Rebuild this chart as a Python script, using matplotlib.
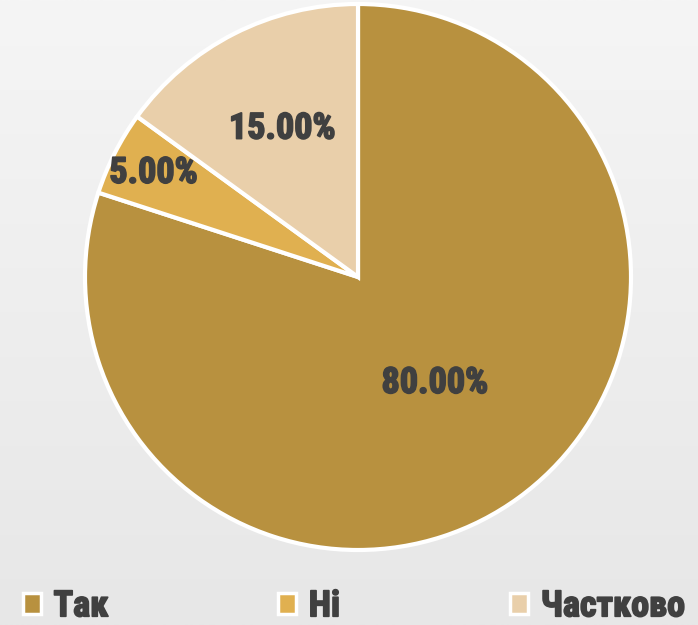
import numpy as np
import matplotlib.pyplot as plt
import matplotlib.patheffects as pe
from matplotlib.colors import LinearSegmentedColormap
from matplotlib.patches import Patch

labels = ["Так", "Ні", "Частково"]
values = [80, 5, 15]
colors = ["#B8913F", "#E0B050", "#E9CFAA"]
pct_dist = [0.48, 0.84, 0.61]

font = ["Roboto Condensed", "DejaVu Sans"]
text_color = "#404040"
heavy = [pe.withStroke(linewidth=1.2, foreground=text_color)]

fig = plt.figure(figsize=(6.98, 6.25), dpi=100)

# soft grey background gradient
bg = fig.add_axes([0, 0, 1, 1], zorder=-1)
grad = np.linspace(0, 1, 256).reshape(-1, 1)
bg.imshow(grad, aspect="auto", extent=[0, 1, 0, 1], origin="upper",
          cmap=LinearSegmentedColormap.from_list("bg", ["#F5F5F5", "#E7E7E7"]))
bg.axis("off")

ax = fig.add_axes([85 / 698, 75 / 625, 546 / 698, 546 / 625])
wedges, texts, autotexts = ax.pie(
    values, colors=colors, startangle=90, counterclock=False,
    autopct="%.2f%%", radius=1,
    wedgeprops=dict(edgecolor="white", linewidth=3, clip_on=False),
    textprops=dict(family=font, fontweight="black", fontsize=26, color=text_color),
)
for w, t, d in zip(wedges, autotexts, pct_dist):
    ang = np.deg2rad((w.theta1 + w.theta2) / 2)
    t.set_position((d * np.cos(ang), d * np.sin(ang)))
    t.set_path_effects(heavy)
ax.set_xlim(-1.0, 1.0)
ax.set_ylim(-1.0, 1.0)
ax.set_aspect("equal")
ax.axis("off")

handles = [Patch(facecolor=c, edgecolor="white", linewidth=2.5) for c in colors]
leg = fig.legend(handles, labels, ncol=3, mode="expand", loc="lower left",
                 bbox_to_anchor=(0.012, -0.022, 0.99, 0.06), frameon=False,
                 handlelength=0.5, handleheight=0.5, handletextpad=0.35,
                 prop=dict(family=font, weight="black", size=26), borderaxespad=0.0)
for t in leg.get_texts():
    t.set_color(text_color)
    t.set_path_effects(heavy)

fig.savefig("out.png", dpi=100)
